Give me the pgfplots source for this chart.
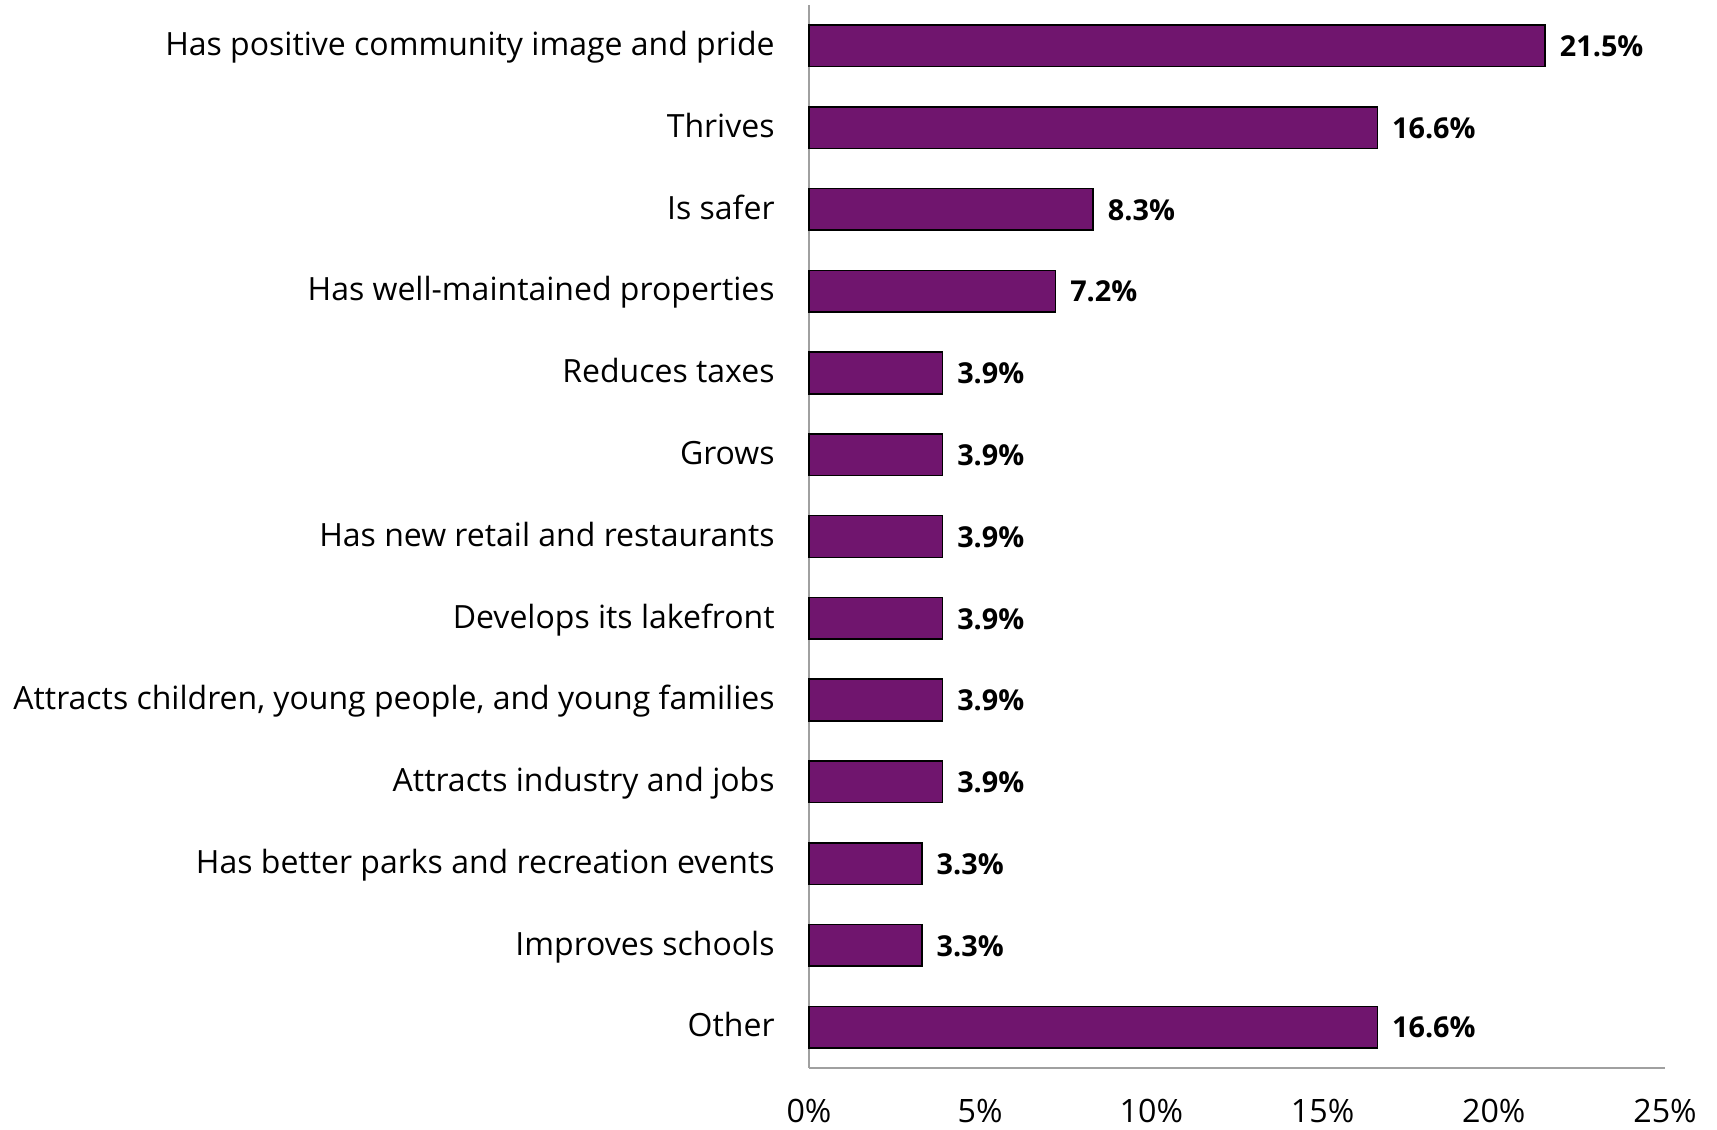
\documentclass[border=0pt]{standalone}
\usepackage{fontspec}
\setmainfont{Open Sans}
\usepackage{pgfplots}
\pgfplotsset{compat=1.18}
\definecolor{barpurple}{RGB}{112,21,110}
\definecolor{axisgray}{RGB}{160,160,160}
\begin{document}
\begin{tikzpicture}
\path[use as bounding box] (-404.5pt,-30.5pt) rectangle (454pt,534pt);
\begin{axis}[
  at={(0,0)}, anchor=south west,
  scale only axis,
  width=428pt, height=531.5pt,
  xbar, bar width=20.8pt,
  xmin=0, xmax=25,
  ymin=-0.5, ymax=12.5,
  y dir=reverse,
  axis x line*=bottom,
  axis y line*=left,
  axis line style={axisgray, line width=0.6pt},
  x axis line style={-}, y axis line style={-},
  major tick length=0pt,
  xtick={0,5,10,15,20,25},
  xticklabel={\pgfmathprintnumber{\tick}\%},
  /pgf/number format/assume math mode=true,
  x tick label style={anchor=center, yshift=-21.5pt, font=\fontsize{16.1pt}{19pt}\selectfont},
  ytick={0,...,12},
  yticklabels={Has positive community image and pride, Thrives, Is safer, Has well-maintained properties, Reduces taxes, Grows, Has new retail and restaurants, Develops its lakefront, {Attracts children, young people, and young families}, Attracts industry and jobs, Has better parks and recreation events, Improves schools, Other},
  y tick label style={anchor=east, inner sep=0pt, xshift=-17pt, yshift=-1.3pt, text height=0.72em, text depth=0pt, font=\fontsize{16pt}{19pt}\selectfont},
  nodes near coords={\pgfmathprintnumber[fixed,fixed zerofill,precision=1]{\pgfplotspointmeta}\%},
  nodes near coords style={anchor=west, inner sep=0pt, xshift=7pt, yshift=-1.8pt, text height=0.72em, text depth=0pt, font=\fontsize{14.4pt}{17pt}\selectfont\bfseries},
  clip=false,
]
\addplot[fill=barpurple, draw=black, line width=0.75pt] coordinates {
(21.5,0) (16.6,1) (8.3,2) (7.2,3) (3.9,4) (3.9,5) (3.9,6) (3.9,7) (3.9,8) (3.9,9) (3.3,10) (3.3,11) (16.6,12)
};
\end{axis}
\end{tikzpicture}
\end{document}
